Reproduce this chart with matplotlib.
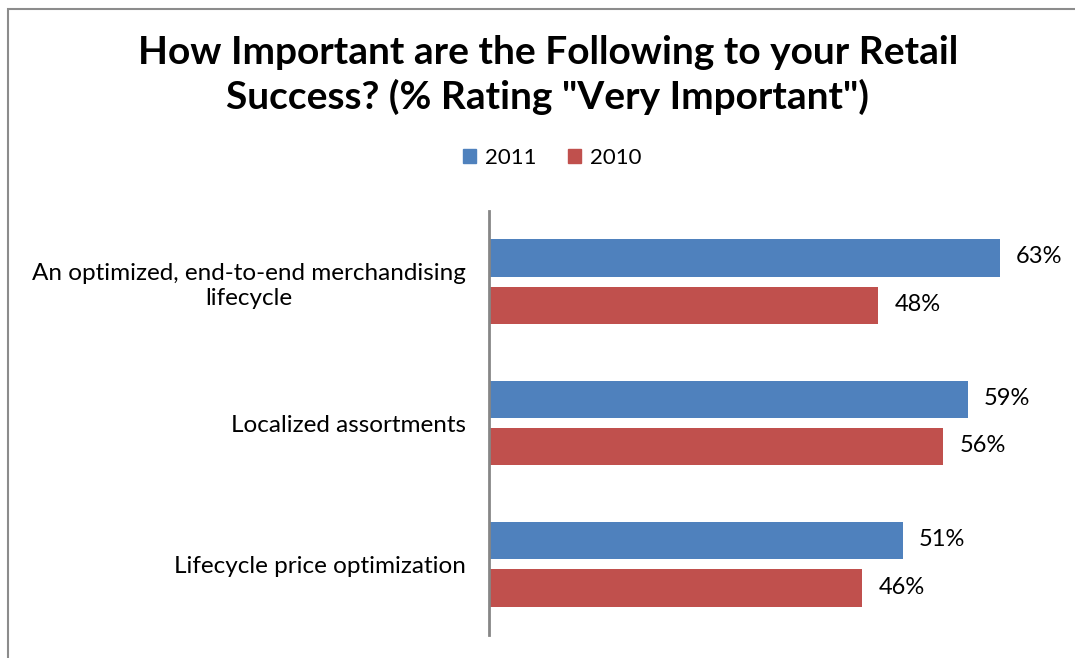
import matplotlib.pyplot as plt
from matplotlib.patches import Patch, Rectangle

plt.rcParams['font.family'] = ['Lato', 'DejaVu Sans']

# survey categories (top to bottom) and share rating "Very Important"
categories = ['An optimized, end-to-end merchandising\nlifecycle',
              'Localized assortments',
              'Lifecycle price optimization']
pct_2011 = [63, 59, 51]
pct_2010 = [48, 56, 46]

blue = '#4F81BD'
red = '#C0504D'

W, H = 1075, 658
fig = plt.figure(figsize=(W / 100, H / 100), dpi=100)

# chart frame
fig.add_artist(Rectangle((8 / W, -0.05), 1.2, 1 - 9 / H + 0.05,
                         transform=fig.transFigure, fill=False,
                         edgecolor='#8c8c8c', linewidth=1.5))

ax = fig.add_axes([489 / W, 23 / H, (1057 - 489) / W, 424 / H])

y = list(range(len(categories)))
h = 0.265
off = 0.1675
ax.barh([i - off for i in y], pct_2011, height=h, color=blue, label='2011')
ax.barh([i + off for i in y], pct_2010, height=h, color=red, label='2010')

for i, v in enumerate(pct_2011):
    ax.annotate(f'{v}%', (v, i - off), xytext=(16, 1), textcoords='offset pixels',
                ha='left', va='center', fontsize=17)
for i, v in enumerate(pct_2010):
    ax.annotate(f'{v}%', (v, i + off), xytext=(16, 1), textcoords='offset pixels',
                ha='left', va='center', fontsize=17)

ax.set_xlim(0, 70)
ax.set_ylim(2.5, -0.5)
ax.set_yticks(y)
ax.set_yticklabels(categories, fontsize=17.5, multialignment='center', linespacing=1.28)
ax.tick_params(axis='y', length=0, pad=16.5)
ax.set_xticks([])
for s in ['top', 'right', 'bottom']:
    ax.spines[s].set_visible(False)
ax.spines['left'].set_color('#868686')
ax.spines['left'].set_linewidth(2)

fig.text(548 / W, 1 - 75 / H,
         'How Important are the Following to your Retail\nSuccess? (% Rating "Very Important")',
         ha='center', va='center', fontsize=28, fontweight='bold', linespacing=1.27)

handles = [Patch(color=blue), Patch(color=red)]
fig.legend(handles, ['2011', '2010'], loc='center', bbox_to_anchor=(552 / W, 1 - 158 / H),
           ncol=2, frameon=False, fontsize=16, handlelength=0.6, handleheight=0.6,
           handletextpad=0.4, columnspacing=1.4)

fig.savefig('out.png', dpi=100)
